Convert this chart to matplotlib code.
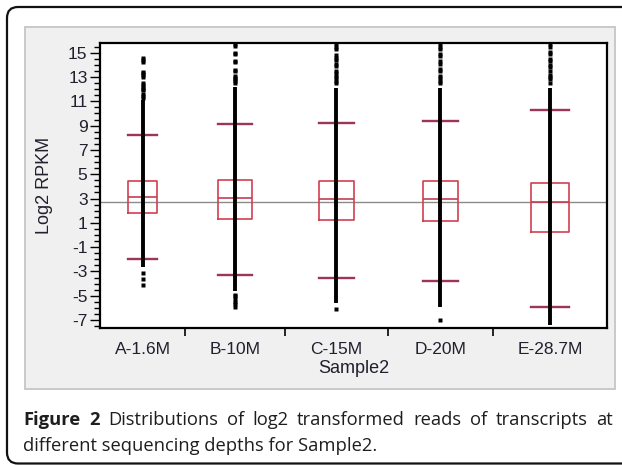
import matplotlib
matplotlib.use('Agg')
import matplotlib.pyplot as plt
import numpy as np
from matplotlib.patches import FancyBboxPatch, Rectangle
from matplotlib.ticker import MultipleLocator, FixedLocator

# ---------------- data ----------------
categories = ['A-1.6M', 'B-10M', 'C-15M', 'D-20M', 'E-28.7M']
group_sizes = [85, 100, 103, 105, 114]          # relative group widths (proportional x-axis)
q1 = [1.80, 1.35, 1.27, 1.13, 0.25]
medians = [3.15, 3.06, 3.00, 3.00, 2.73]
q3 = [4.42, 4.56, 4.42, 4.42, 4.29]
whisker_low = [-1.95, -3.26, -3.53, -3.81, -5.92]
whisker_high = [8.20, 9.10, 9.23, 9.37, 10.30]
dense_low = [-2.60, -4.65, -5.60, -5.90, -7.40]
dense_high = [11.15, 12.15, 12.10, 12.10, 12.10]
outliers_high = [
    [14.55, 14.40, 14.25, 13.45, 13.30, 13.15, 13.00, 12.50, 12.35, 12.20, 12.05, 11.90, 11.60, 11.45, 11.30],
    [15.70, 15.55, 15.00, 14.90, 14.30, 14.20, 13.60, 13.50, 13.10, 12.95, 12.80, 12.65, 12.50],
    [15.70, 15.50, 15.30, 14.80, 14.60, 14.40, 14.10, 13.90, 13.50, 13.30, 13.10, 12.90, 12.70, 12.50],
    [15.70, 15.50, 15.30, 14.90, 14.70, 14.30, 14.10, 13.70, 13.50, 13.10, 12.90, 12.70, 12.50],
    [15.70, 15.50, 15.10, 14.90, 14.50, 14.30, 14.00, 13.80, 13.50, 13.20, 13.00, 12.80, 12.50],
]
outliers_low = [
    [-3.10, -3.60, -4.15],
    [-4.90, -5.05, -5.30, -5.50, -5.70, -5.95],
    [-6.10],
    [-7.00],
    [],
]
grand_mean = 2.73
y_ticks = list(range(-7, 16, 2))
ylabel = 'Log2 RPKM'
xlabel = 'Sample2'
caption_bold = 'Figure 2'
caption_line1 = 'Distributions of log2 transformed reads of transcripts at'
caption_line2 = 'different sequencing depths for Sample2.'

# ---------------- figure ----------------
W, H = 622, 465
fig = plt.figure(figsize=(W / 100, H / 100), dpi=100)

bg = fig.add_axes([0, 0, 1, 1], zorder=0)
bg.set_xlim(0, W)
bg.set_ylim(H, 0)
bg.axis('off')

# outer rounded frame
bg.add_patch(FancyBboxPatch((7, 7), 660, 456.5, boxstyle='round,pad=0,rounding_size=11',
                            facecolor='white', edgecolor='#111111', lw=1.6, clip_on=False))
# gray chart panel
bg.add_patch(Rectangle((25, 27.5), 590, 361.5, facecolor='#f0f0f0', edgecolor='#c9c9c9', lw=1.4))

# main axes (pixel-derived placement)
L, R, T, B = 100, 607, 43, 327.7
ax = fig.add_axes([L / W, 1 - B / H, (R - L) / W, (B - T) / H], zorder=1)
ax.set_facecolor('white')

sizes = np.array(group_sizes, dtype=float)
edges = np.concatenate([[0], np.cumsum(sizes)])
centers = edges[:-1] + sizes / 2
bw = 0.34 * sizes

stats = []
for i, c in enumerate(categories):
    stats.append(dict(med=medians[i], q1=q1[i], q3=q3[i], whislo=whisker_low[i],
                      whishi=whisker_high[i], label=c))

box_red = '#d2404f'
ax.bxp(stats, positions=centers, widths=bw, capwidths=bw, showfliers=False,
       boxprops=dict(color=box_red, lw=1.2),
       medianprops=dict(color='#c23e50', lw=1.2),
       whiskerprops=dict(lw=0),
       capprops=dict(color='#9c3556', lw=1.7),
       manage_ticks=False)

ax.axhline(grand_mean, color='#8a8a8a', lw=1.0, zorder=1.5)
ax.vlines(centers, dense_low, dense_high, color='black', lw=2.8, zorder=4)
for i in range(len(categories)):
    pts = outliers_high[i] + outliers_low[i]
    ax.plot([centers[i]] * len(pts), pts, ls='none', marker='s', ms=2.9,
            mec='none', mfc='black', zorder=4, clip_on=True)

ax.set_xlim(0, edges[-1])
ax.set_ylim(-7.63, 15.8)

tick_font = dict(family='Liberation Sans', size=12.5)
ax.set_yticks(y_ticks)
ax.set_yticklabels([str(t) for t in y_ticks], fontdict=tick_font, color='#20202e')
ax.yaxis.set_minor_locator(MultipleLocator(0.5))
ax.tick_params(axis='y', which='major', length=7, width=1.0, pad=2, direction='out')
ax.tick_params(axis='y', which='minor', length=4, width=1.0, direction='out')

ax.set_xticks(centers)
ax.set_xticklabels(categories, fontdict=tick_font, color='#20202e')
ax.xaxis.set_minor_locator(FixedLocator(edges[1:-1]))
ax.tick_params(axis='x', which='major', length=0, pad=10)
ax.tick_params(axis='x', which='minor', length=6, width=1.2, direction='out')

for s in ax.spines.values():
    s.set_linewidth(1.6)
    s.set_color('black')

ax.set_ylabel(ylabel, family='Liberation Sans', size=13, color='#20202e')
ax.yaxis.set_label_coords(-0.092, 0.5)
ax.set_xlabel(xlabel, family='Liberation Sans', size=13, color='#20202e')
ax.xaxis.set_label_coords(0.5, -0.112)

# ---------------- caption (justified) ----------------
renderer = fig.canvas.get_renderer()
cap_color = '#1e1e1e'
cap_family = 'Open Sans'
left_x, right_x = 23.3, 613.0
base1, base2 = 424.5, 451.0

def text_width(s, size, weight='normal'):
    t = bg.text(0, 0, s, family=cap_family, size=size, weight=weight)
    w = t.get_window_extent(renderer).width
    t.remove()
    return w

# font size chosen so that line 2 spans the measured width
target2 = 355.0
w10 = text_width(caption_line2, 10)
cap_size = 10 * target2 / w10

words = [(caption_bold.split()[0], 'bold'), (caption_bold.split()[1], 'bold')] + \
        [(w, 'normal') for w in caption_line1.split()]
widths = [text_width(w, cap_size, wt) for w, wt in words]
gap = (right_x - left_x - sum(widths)) / (len(words) - 1)
x = left_x
for (w, wt), ww in zip(words, widths):
    bg.text(x, base1, w, family=cap_family, size=cap_size, weight=wt,
            color=cap_color, va='baseline', ha='left')
    x += ww + gap

bg.text(left_x, base2, caption_line2, family=cap_family, size=cap_size,
        color=cap_color, va='baseline', ha='left')

fig.savefig('out.png', dpi=100)
